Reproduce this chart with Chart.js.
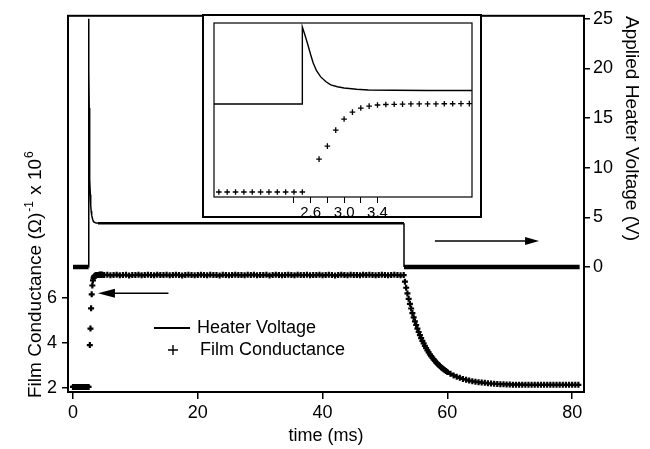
<!DOCTYPE html>
<html>
<head>
<meta charset="utf-8">
<script src="https://cdn.jsdelivr.net/npm/chart.js@4.4.0/dist/chart.umd.min.js"></script>
<style>
  body { margin: 0; background: #fff; }
  #wrap { position: relative; width: 650px; height: 449px; }
  canvas { display: block; }
  #inset { position: absolute; left: 202px; top: 14px; }
</style>
</head>
<body>
<div id="wrap">
  <canvas id="main" width="650" height="449"></canvas>
  <canvas id="inset" width="280" height="204"></canvas>
</div>
<script>
// Heater pulse (V) against time (ms)
const heaterTime = [0.0, 2.5, 2.5, 2.53, 2.56, 2.60, 2.63, 2.67, 2.72, 2.78, 2.84, 2.92, 3.00, 3.15, 3.29, 3.6, 4.0, 53.05, 53.05, 81.2];
const heaterVolt = [0, 0, 25, 22.5, 19.8, 16.0, 13.3, 10.8, 8.8, 7.3, 6.2, 5.6, 5.2, 4.8, 4.55, 4.45, 4.4, 4.4, 0, 0];

// Film conductance, (ohm)^-1 x 10^6, sampled in pieces
const preTime = [0.0, 0.1, 0.2, 0.3, 0.4, 0.5, 0.6, 0.7, 0.8, 0.9, 1.0, 1.1, 1.2, 1.3, 1.4, 1.5, 1.6, 1.7, 1.8, 1.9, 2.0, 2.1, 2.2, 2.3, 2.4, 2.5];
const preCond = [2.05, 2.05, 2.05, 2.05, 2.05, 2.05, 2.05, 2.05, 2.05, 2.05, 2.05, 2.05, 2.05, 2.05, 2.05, 2.05, 2.05, 2.05, 2.05, 2.05, 2.05, 2.05, 2.05, 2.05, 2.05, 2.05];

const riseTime = [2.7, 2.8, 2.9, 3.0, 3.1, 3.2, 3.3, 3.4, 3.5, 3.6, 3.7, 3.8, 3.9, 4.0, 4.1, 4.2, 4.3, 4.4, 4.5, 4.6, 4.7];
const riseCond = [3.90, 4.63, 5.53, 6.15, 6.54, 6.77, 6.88, 6.94, 6.97, 6.98, 6.99, 7.00, 7.00, 7.00, 7.00, 7.01, 7.01, 7.02, 7.02, 7.02, 7.02];

const plateauTime = [
  5.0, 5.5, 6.0, 6.5, 7.0, 7.5, 8.0, 8.5, 9.0, 9.5,
  10.0, 10.5, 11.0, 11.5, 12.0, 12.5, 13.0, 13.5, 14.0, 14.5,
  15.0, 15.5, 16.0, 16.5, 17.0, 17.5, 18.0, 18.5, 19.0, 19.5,
  20.0, 20.5, 21.0, 21.5, 22.0, 22.5, 23.0, 23.5, 24.0, 24.5,
  25.0, 25.5, 26.0, 26.5, 27.0, 27.5, 28.0, 28.5, 29.0, 29.5,
  30.0, 30.5, 31.0, 31.5, 32.0, 32.5, 33.0, 33.5, 34.0, 34.5,
  35.0, 35.5, 36.0, 36.5, 37.0, 37.5, 38.0, 38.5, 39.0, 39.5,
  40.0, 40.5, 41.0, 41.5, 42.0, 42.5, 43.0, 43.5, 44.0, 44.5,
  45.0, 45.5, 46.0, 46.5, 47.0, 47.5, 48.0, 48.5, 49.0, 49.5,
  50.0, 50.5, 51.0, 51.5, 52.0, 52.5, 53.0
];
const plateauCond = [
  7.00, 7.01, 6.99, 7.00, 7.02, 6.99, 7.00, 7.01, 6.98, 7.00,
  7.00, 7.02, 6.99, 7.00, 7.01, 7.00, 6.99, 7.02, 7.00, 7.00,
  7.01, 6.99, 7.00, 7.02, 7.00, 6.98, 7.00, 7.01, 7.00, 6.99,
  7.00, 7.02, 7.00, 6.99, 7.01, 7.00, 7.00, 6.98, 7.01, 7.00,
  6.99, 7.00, 7.02, 7.00, 7.00, 6.99, 7.01, 7.00, 7.02, 6.99,
  7.00, 7.00, 7.01, 6.98, 7.00, 7.02, 7.00, 6.99, 7.00, 7.01,
  7.00, 6.99, 7.02, 7.00, 7.00, 7.01, 6.99, 7.00, 7.00, 7.02,
  6.99, 7.00, 7.01, 7.00, 6.98, 7.00, 7.02, 7.00, 6.99, 7.01,
  7.00, 7.00, 6.99, 7.02, 7.00, 7.01, 7.00, 6.99, 7.00, 7.01,
  7.00, 6.99, 7.00, 7.01, 7.00, 6.99, 7.00
];

const decayTime = [
  53.2, 53.4, 53.6, 53.8, 54.0, 54.2, 54.4, 54.6, 54.8, 55.0,
  55.2, 55.4, 55.6, 55.8, 56.0, 56.2, 56.4, 56.6, 56.8, 57.0,
  57.2, 57.4, 57.6, 57.8, 58.0, 58.2, 58.4, 58.6, 58.8, 59.0,
  59.2, 59.4, 59.6, 59.8, 60.0,
  60.5, 61.0, 61.5, 62.0, 62.5, 63.0, 63.5, 64.0, 64.5, 65.0,
  65.5, 66.0, 66.5, 67.0, 67.5, 68.0, 68.5, 69.0, 69.5, 70.0,
  70.5, 71.0, 71.5, 72.0, 72.5, 73.0, 73.5, 74.0, 74.5, 75.0,
  75.5, 76.0, 76.5, 77.0, 77.5, 78.0, 78.5, 79.0, 79.5, 80.0,
  80.5, 81.0
];
const decayCond = [
  6.71, 6.44, 6.19, 5.95, 5.73, 5.52, 5.32, 5.13, 4.95, 4.79,
  4.63, 4.48, 4.34, 4.21, 4.09, 3.98, 3.87, 3.77, 3.67, 3.58,
  3.49, 3.41, 3.34, 3.27, 3.20, 3.14, 3.08, 3.02, 2.97, 2.92,
  2.87, 2.83, 2.79, 2.75, 2.71,
  2.63, 2.56, 2.50, 2.45, 2.40, 2.37, 2.33, 2.30, 2.28, 2.26,
  2.24, 2.23, 2.21, 2.20, 2.19, 2.18, 2.17, 2.17, 2.16, 2.16,
  2.15, 2.15, 2.15, 2.15, 2.14, 2.14, 2.14, 2.14, 2.14, 2.14,
  2.14, 2.14, 2.14, 2.14, 2.14, 2.14, 2.14, 2.14, 2.14, 2.14,
  2.14, 2.14
];

const condTime = [...preTime, ...riseTime, ...plateauTime, ...decayTime];
const condValue = [...preCond, ...riseCond, ...plateauCond, ...decayCond];

// Tick values
const timeTicks = [0, 20, 40, 60, 80];
const condTicks = [2, 4, 6];
const voltTicks = [0, 5, 10, 15, 20, 25];
const insetTicks = [2.4, 2.6, 2.8, 3.0, 3.2, 3.4];
const insetLabels = [2.6, 3.0, 3.4];

const FONT = "'Liberation Sans', Arial, sans-serif";
Chart.defaults.font.family = FONT;
Chart.defaults.color = '#000';

const heaterPoints = heaterTime.map((t, i) => ({ x: t, y: heaterVolt[i] }));
const condPoints = condTime.map((t, i) => ({ x: t, y: condValue[i] }));

function fixedTicks(values) {
  return scale => { scale.ticks = values.map(v => ({ value: v })); };
}

function tickMarks(len, width) {
  return { display: true, drawOnChartArea: false, drawTicks: true, tickLength: len, color: '#000', lineWidth: width };
}

function drawArrow(ctx, x1, x2, y, headLen, headHalf) {
  const dir = x2 > x1 ? 1 : -1;
  ctx.beginPath();
  ctx.moveTo(x1, y);
  ctx.lineTo(x2 - dir * headLen * 0.5, y);
  ctx.stroke();
  ctx.beginPath();
  ctx.moveTo(x2, y);
  ctx.lineTo(x2 - dir * headLen, y - headHalf);
  ctx.lineTo(x2 - dir * headLen, y + headHalf);
  ctx.closePath();
  ctx.fill();
}

// frame, rotated axis titles, legend and arrows for the main panel
const mainDecor = {
  id: 'mainDecor',
  afterDraw(chart) {
    const { ctx, chartArea: a, scales } = chart;
    ctx.save();
    ctx.strokeStyle = '#000';
    ctx.fillStyle = '#000';
    ctx.lineWidth = 2;
    ctx.strokeRect(a.left, a.top, a.right - a.left, a.bottom - a.top);

    // left title with superscripts
    ctx.save();
    ctx.translate(41, 398);
    ctx.rotate(-Math.PI / 2);
    ctx.textAlign = 'left';
    ctx.textBaseline = 'alphabetic';
    const big = '19px ' + FONT, small = '12px ' + FONT;
    let x = 0;
    ctx.font = big;
    ctx.fillText('Film Conductance (Ω)', x, 0);
    x += ctx.measureText('Film Conductance (Ω)').width;
    ctx.font = small;
    ctx.fillText('-1', x + 1, -8);
    x += ctx.measureText('-1').width + 2;
    ctx.font = big;
    ctx.fillText(' x 10', x, 0);
    x += ctx.measureText(' x 10').width;
    ctx.font = small;
    ctx.fillText('6', x + 1, -8);
    ctx.restore();

    // right title, reading downward
    ctx.save();
    ctx.translate(626, 16);
    ctx.rotate(Math.PI / 2);
    ctx.font = '19px ' + FONT;
    ctx.textAlign = 'left';
    ctx.textBaseline = 'alphabetic';
    ctx.fillText('Applied Heater Voltage (V)', 0, 0);
    ctx.restore();

    // legend
    ctx.font = '18px ' + FONT;
    ctx.textAlign = 'left';
    ctx.textBaseline = 'middle';
    ctx.lineWidth = 2;
    ctx.beginPath();
    ctx.moveTo(154, 328);
    ctx.lineTo(190, 328);
    ctx.stroke();
    ctx.fillText('Heater Voltage', 197, 328);
    ctx.lineWidth = 1.4;
    ctx.beginPath();
    ctx.moveTo(168, 350); ctx.lineTo(178, 350);
    ctx.moveTo(173, 345); ctx.lineTo(173, 355);
    ctx.stroke();
    ctx.fillText('Film Conductance', 200, 350);

    // arrows pointing at each series' axis
    const xs = scales.x;
    ctx.lineWidth = 1.5;
    drawArrow(ctx, xs.getPixelForValue(15.3), xs.getPixelForValue(4.0), scales.yC.getPixelForValue(6.2), 17, 4.5);
    drawArrow(ctx, xs.getPixelForValue(58.0), xs.getPixelForValue(74.7), scales.yV.getPixelForValue(2.6), 14, 4);
    ctx.restore();
  }
};

new Chart(document.getElementById('main'), {
  type: 'line',
  data: {
    datasets: [
      {
        label: 'Heater Voltage',
        data: heaterPoints,
        yAxisID: 'yV',
        borderColor: '#000',
        borderWidth: 1.5,
        pointRadius: 0,
        tension: 0,
        segment: {
          borderWidth: ctx => {
            const a = ctx.p0.parsed.y, b = ctx.p1.parsed.y;
            if (a === 0 && b === 0) return 4.5;
            if (a === b) return 2.5;
            return 1.5;
          }
        }
      },
      {
        label: 'Film Conductance',
        data: condPoints,
        yAxisID: 'yC',
        showLine: false,
        pointStyle: 'cross',
        pointRadius: 3,
        pointBorderWidth: 2.2,
        pointBorderColor: '#000',
        pointBackgroundColor: '#000'
      }
    ]
  },
  options: {
    responsive: false,
    animation: false,
    layout: { padding: { top: 13, left: 0, right: 0, bottom: 0 } },
    scales: {
      x: {
        type: 'linear',
        min: -0.8,
        max: 81.9,
        afterBuildTicks: fixedTicks(timeTicks),
        afterFit: s => { s.height = 57; },
        grid: tickMarks(7, 1.5),
        border: { display: false },
        ticks: { font: { size: 18 }, padding: 3, maxRotation: 0, autoSkip: false },
        title: { display: true, text: 'time (ms)', font: { size: 18 }, padding: { top: 0, bottom: 2 } }
      },
      yC: {
        position: 'left',
        min: 1.824,
        max: 18.48,
        afterBuildTicks: fixedTicks(condTicks),
        afterFit: s => { s.width = 68; },
        grid: tickMarks(6, 1.5),
        border: { display: false },
        ticks: { font: { size: 18 }, padding: 5, autoSkip: false }
      },
      yV: {
        position: 'right',
        min: -12.6,
        max: 25.3,
        afterBuildTicks: fixedTicks(voltTicks),
        afterFit: s => { s.width = 66; },
        grid: tickMarks(6, 1.5),
        border: { display: false },
        ticks: { font: { size: 18 }, padding: 3, autoSkip: false }
      }
    },
    plugins: { legend: { display: false }, tooltip: { enabled: false } }
  },
  plugins: [mainDecor]
});

// zoomed view of the switch-on, drawn over the main panel
const insetFrame = {
  id: 'insetFrame',
  beforeDraw(chart) {
    const { ctx, width, height } = chart;
    ctx.save();
    ctx.fillStyle = '#fff';
    ctx.fillRect(0, 0, width, height);
    ctx.restore();
  },
  afterDraw(chart) {
    const { ctx, width, height, chartArea: a } = chart;
    ctx.save();
    ctx.strokeStyle = '#000';
    ctx.lineWidth = 2;
    ctx.strokeRect(1, 1, width - 2, height - 2);
    ctx.lineWidth = 1.2;
    ctx.strokeRect(a.left, a.top, a.right - a.left, a.bottom - a.top);
    ctx.restore();
  }
};

new Chart(document.getElementById('inset'), {
  type: 'line',
  data: {
    datasets: [
      {
        data: heaterPoints,
        yAxisID: 'yV',
        borderColor: '#000',
        borderWidth: 1.4,
        pointRadius: 0,
        tension: 0
      },
      {
        data: condPoints,
        yAxisID: 'yC',
        showLine: false,
        pointStyle: 'cross',
        pointRadius: 2.8,
        pointBorderWidth: 1.3,
        pointBorderColor: '#000'
      }
    ]
  },
  options: {
    responsive: false,
    animation: false,
    layout: { padding: { left: 12, right: 10, top: 9, bottom: 0 } },
    scales: {
      x: {
        type: 'linear',
        min: 1.442,
        max: 4.532,
        afterBuildTicks: fixedTicks(insetTicks),
        afterFit: s => { s.height = 21; },
        grid: tickMarks(6, 1),
        border: { display: false },
        ticks: {
          font: { size: 15 },
          padding: 1,
          maxRotation: 0,
          autoSkip: false,
          callback: v => insetLabels.includes(v) ? v.toFixed(1) : ''
        }
      },
      yC: { display: false, min: 1.77, max: 11.55 },
      yV: { display: false, min: -30.2, max: 26.3 }
    },
    plugins: { legend: { display: false }, tooltip: { enabled: false } }
  },
  plugins: [insetFrame]
});
</script>
</body>
</html>
